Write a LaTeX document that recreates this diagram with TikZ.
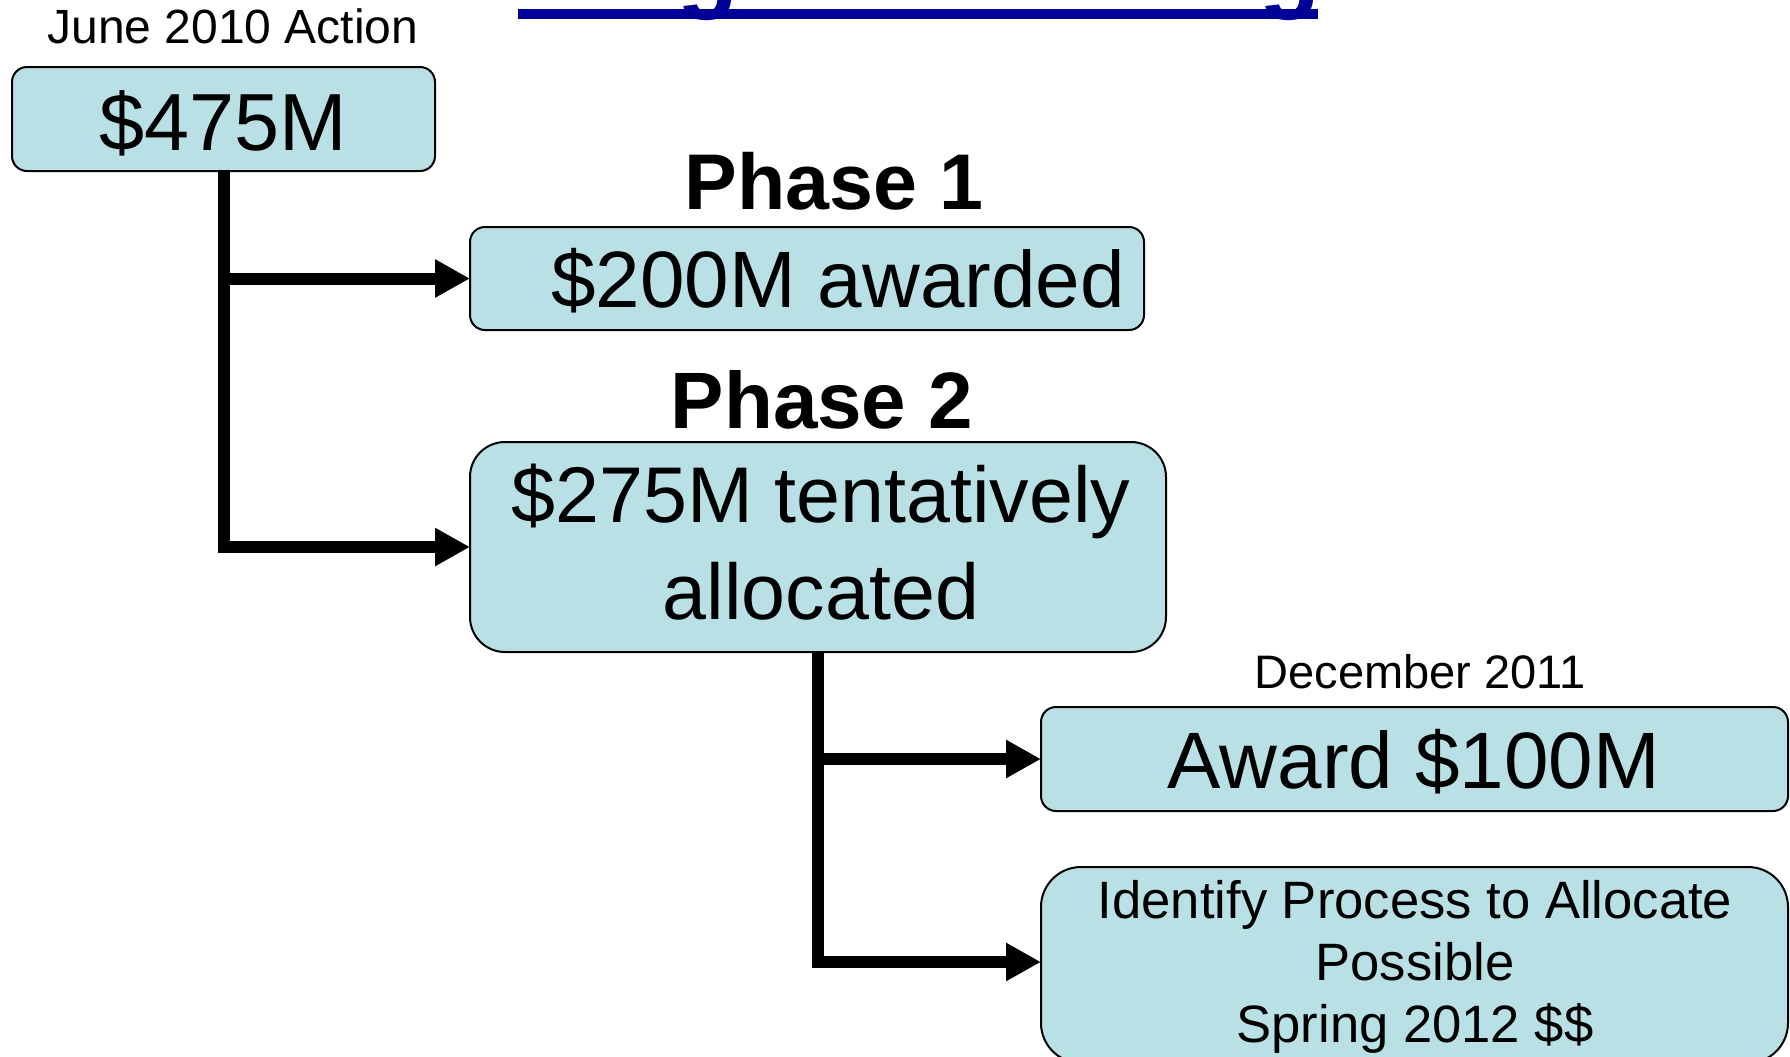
\documentclass[tikz,border=0pt]{standalone}
\usepackage{fontspec}
\setmainfont{Liberation Sans}
\usetikzlibrary{arrows.meta}
\definecolor{boxfill}{RGB}{185,224,228}
\definecolor{titleblue}{RGB}{0,0,153}
\begin{document}
\begin{tikzpicture}[x=0.5pt,y=-0.5pt,
  box/.style={draw=black,line width=1pt,fill=boxfill,inner sep=0pt,outer sep=0pt,rounded corners=#1},
  box/.default=7.5pt,
  txt/.style={inner sep=0pt,outer sep=0pt,anchor=base},
  conn/.style={line width=6pt,-{Triangle[length=17.5pt,width=18pt]}},
]
\clip (0,0) rectangle (1790,1056);
\fill[white] (0,0) rectangle (1790,1056);

% cut-off title (only underline and descenders visible)
\fill[titleblue] (518,9) rectangle (1318,19);
\node[txt,text=titleblue,font=\fontsize{50}{60}\selectfont\bfseries] (tg1) at (708,-1) {g};
\node[txt,text=titleblue,font=\fontsize{50}{60}\selectfont\bfseries] (tg2) at (1290,-1) {g};

% boxes
\node[box,minimum width=211.5pt,minimum height=52pt] (A) at (223.5,119) {};
\node[box,minimum width=337pt,minimum height=51.5pt] (B) at (807,278.5) {};
\node[box=17.5pt,minimum width=348pt,minimum height=105pt] (C) at (818,547) {};
\node[box,minimum width=373.5pt,minimum height=52pt] (D) at (1414.5,759) {};
\node[box=20pt,minimum width=373.5pt,minimum height=98pt] (E) at (1414.5,965) {};

% texts
\node[txt,font=\fontsize{24}{28}\selectfont] (june) at (233,43) {June 2010 Action};
\node[txt,font=\fontsize{40.5}{49}\selectfont] (t475) at (223,150) {\$475M};
\node[txt,font=\fontsize{39.5}{48}\selectfont\bfseries] (ph1) at (834,209) {Phase 1};
\node[txt,font=\fontsize{40}{48}\selectfont] (t200) at (838,307) {\$200M awarded};
\node[txt,font=\fontsize{40}{48}\selectfont\bfseries] (ph2) at (822,428) {Phase 2};
\node[txt,font=\fontsize{39.5}{47}\selectfont] (c1) at (821,522) {\$275M tentatively};
\node[txt,font=\fontsize{39.5}{47}\selectfont] (c2) at (821,619) {allocated};
\node[txt,font=\fontsize{23.5}{28}\selectfont] (dec) at (1420,688) {December 2011};
\node[txt,font=\fontsize{40}{48}\selectfont] (t100) at (1414,788) {Award \$100M};
\node[txt,font=\fontsize{26.3}{31}\selectfont] (e1) at (1415,918) {Identify Process to Allocate};
\node[txt,font=\fontsize{26.3}{31}\selectfont] (e2) at (1415,980) {Possible};
\node[txt,font=\fontsize{26.3}{31}\selectfont] (e3) at (1415,1042) {Spring 2012 \$\$};

% connectors
\draw[conn] (A.south) |- (B.west);
\draw[conn] (A.south) |- (C.west);
\draw[conn] (C.south) |- (D.west);
\draw[conn] (C.south) |- ([yshift=1.5pt]E.west);
\end{tikzpicture}
\end{document}
